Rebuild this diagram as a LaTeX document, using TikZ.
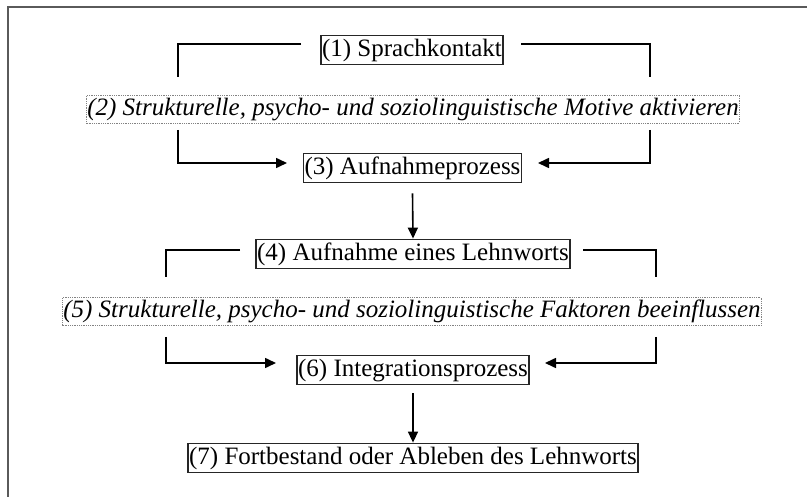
\documentclass[tikz,border=0pt]{standalone}
\usepackage{fontspec}
\setmainfont{Liberation Serif}
\usepackage{tikz}
\usetikzlibrary{arrows.meta,positioning,calc}
\definecolor{frameGray}{RGB}{90,90,90}
\definecolor{dotGray}{RGB}{130,130,130}

\tikzset{
  stufe/.style={draw=black!85,line width=1.3pt,inner sep=1pt,
    text height=20.5pt,text depth=7pt,font=\fontsize{25}{29}\selectfont},
  motiv/.style={draw=dotGray,densely dotted,line width=0.8pt,inner sep=0.5pt,
    text height=20pt,text depth=7pt,font=\fontsize{25}{29}\selectfont\itshape},
  klammer/.style={line width=1.6pt},
  pfeil/.style={line width=1.6pt,-{Triangle[length=11pt,width=10pt]}}
}

\begin{document}
\begin{tikzpicture}[x=1pt,y=-1pt]
  \useasboundingbox (0,0) rectangle (807,497);
  % Rahmen
  \draw[frameGray,line width=1.4pt] (8,497) -- (8,7) -- (807,7);

  % Stufen
  \node[stufe,minimum width=178pt] (s1) at (412,50) {(1) Sprachkontakt};
  \node[motiv,minimum width=642pt] (m2) at (413,109)
    {(2) Strukturelle, psycho- und soziolinguistische Motive aktivieren};
  \node[stufe,minimum width=213pt] (s3) at (412.5,168) {(3) Aufnahmeprozess};
  \node[stufe,minimum width=308pt] (s4) at (413,254) {(4) Aufnahme eines Lehnworts};
  \node[motiv,minimum width=690pt] (m5) at (412,311.5)
    {(5) Strukturelle, psycho- und soziolinguistische Faktoren beeinflussen};
  \node[stufe,minimum width=228pt] (s6) at (413,370) {(6) Integrationsprozess};
  \node[stufe,minimum width=442pt] (s7) at (413,458)
    {(7) Fortbestand oder Ableben des Lehnworts};

  % Klammern oben
  \coordinate (a1) at (301,44);  \coordinate (a2) at (178,77);
  \coordinate (b1) at (521,44);  \coordinate (b2) at (650,77);
  \coordinate (c1) at (178,130); \coordinate (c2) at (287,163);
  \coordinate (d1) at (650,130); \coordinate (d2) at (538,163);
  \draw[klammer] (a1) -| (a2);
  \draw[klammer] (b1) -| (b2);
  \draw[pfeil] (c1) |- (c2);
  \draw[pfeil] (d1) |- (d2);
  \draw[pfeil] ([yshift=-10pt]s3.south) -- (s4.north);

  % Klammern unten
  \coordinate (e1) at (240,250); \coordinate (e2) at (166,277);
  \coordinate (f1) at (583,250); \coordinate (f2) at (656,277);
  \coordinate (g1) at (166,337); \coordinate (g2) at (276,363);
  \coordinate (h1) at (656,337); \coordinate (h2) at (545,363);
  \draw[klammer] (e1) -| (e2);
  \draw[klammer] (f1) -| (f2);
  \draw[pfeil] (g1) |- (g2);
  \draw[pfeil] (h1) |- (h2);
  \draw[pfeil] ([yshift=-8pt]s6.south) -- (s7.north);
\end{tikzpicture}
\end{document}
